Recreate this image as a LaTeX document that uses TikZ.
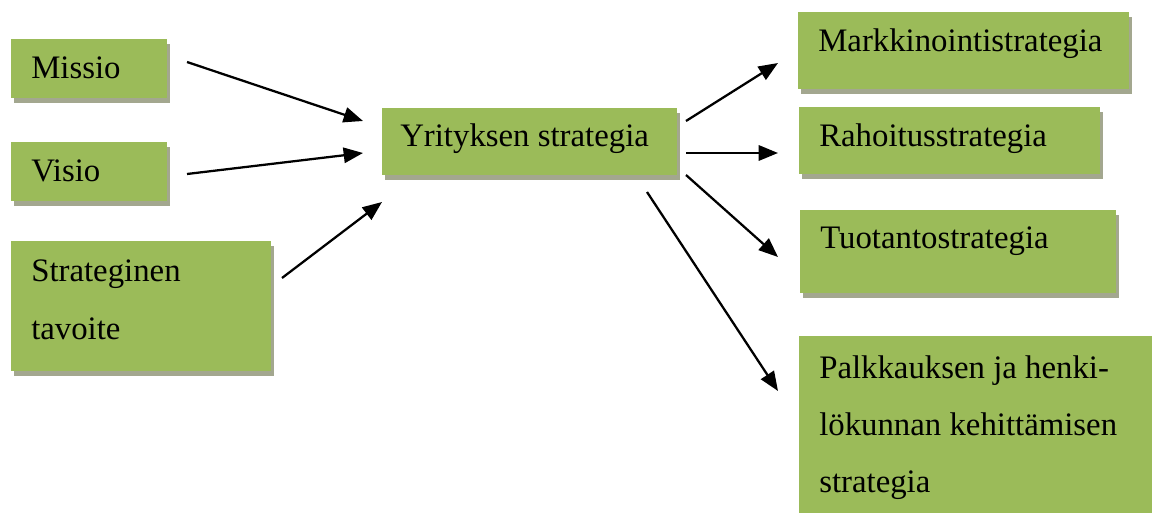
\documentclass[tikz,border=0pt]{standalone}
\usepackage{fontspec}
\setmainfont{Liberation Serif}
\usetikzlibrary{arrows.meta,calc,shadows}
\definecolor{boxgreen}{HTML}{9BBB59}
\definecolor{boxshadow}{HTML}{A3A78F}
\begin{document}
\begin{tikzpicture}[x=0.75pt,y=-0.75pt,
  box/.style={draw=none,fill=boxgreen,anchor=north west,inner sep=0pt,
    drop shadow={shadow xshift=2.25pt,shadow yshift=-3.75pt,fill=boxshadow,opacity=1}},
  txt/.style={anchor=base west,inner sep=0pt,align=left,
    font=\fontsize{24.6pt}{43pt}\selectfont},
  arr/.style={line width=1.7pt,-{Triangle[length=14.5pt,width=11.5pt]}}]
\useasboundingbox (0,0) rectangle (1152,513);
% boxes
\node[box,minimum width=117pt,minimum height=44.25pt] (mis) at (11,39) {};
\node[box,minimum width=117pt,minimum height=44.25pt] (vis) at (11,142) {};
\node[box,minimum width=195pt,minimum height=97.5pt] (str) at (11,241) {};
\node[box,minimum width=221.25pt,minimum height=50.25pt] (yri) at (382,108) {};
\node[box,minimum width=248.25pt,minimum height=57.75pt] (mar) at (798,12) {};
\node[box,minimum width=225.75pt,minimum height=50.25pt] (rah) at (799,107) {};
\node[box,minimum width=237pt,minimum height=62.25pt] (tuo) at (800,210) {};
\node[fill=boxgreen,anchor=north west,inner sep=0pt,minimum width=280pt,minimum height=150pt] (pal) at (799,336) {};
% texts (base anchor = baseline of last line)
\node[txt] (tmis) at ($(mis.north west)+(20,40)$) {Missio};
\node[txt] (tvis) at ($(vis.north west)+(20,40)$) {Visio};
\node[txt] (tstr) at ($(str.north west)+(20,98.3)$) {Strateginen\\tavoite};
\node[txt] (tyri) at ($(yri.north west)+(18,39)$) {Yrityksen strategia};
\node[txt] (tmar) at ($(mar.north west)+(20,40)$) {Markkinointistrategia};
\node[txt] (trah) at ($(rah.north west)+(20,40)$) {Rahoitusstrategia};
\node[txt] (ttuo) at ($(tuo.north west)+(20,38)$) {Tuotantostrategia};
\node[txt] (tpal) at ($(pal.north west)+(20,156.7)$) {Palkkauksen ja henki-\\lökunnan kehittämisen\\strategia};
% connector ends
\coordinate (a1) at (187,62);  \coordinate (b1) at (363,121);
\coordinate (a2) at (187,174); \coordinate (b2) at (363,153);
\coordinate (a3) at (282,278); \coordinate (b3) at (382,202);
\coordinate (c1) at (686,121); \coordinate (d1) at (778,63);
\coordinate (c2) at (686,153); \coordinate (d2) at (778,153);
\coordinate (c3) at (686,175); \coordinate (d3) at (778,257);
\coordinate (c4) at (647,192); \coordinate (d4) at (778,391);
\draw[arr] (a1) -- (b1);
\draw[arr] (a2) -- (b2);
\draw[arr] (a3) -- (b3);
\draw[arr] (c1) -- (d1);
\draw[arr] (c2) -- (d2);
\draw[arr] (c3) -- (d3);
\draw[arr] (c4) -- (d4);
\end{tikzpicture}
\end{document}
